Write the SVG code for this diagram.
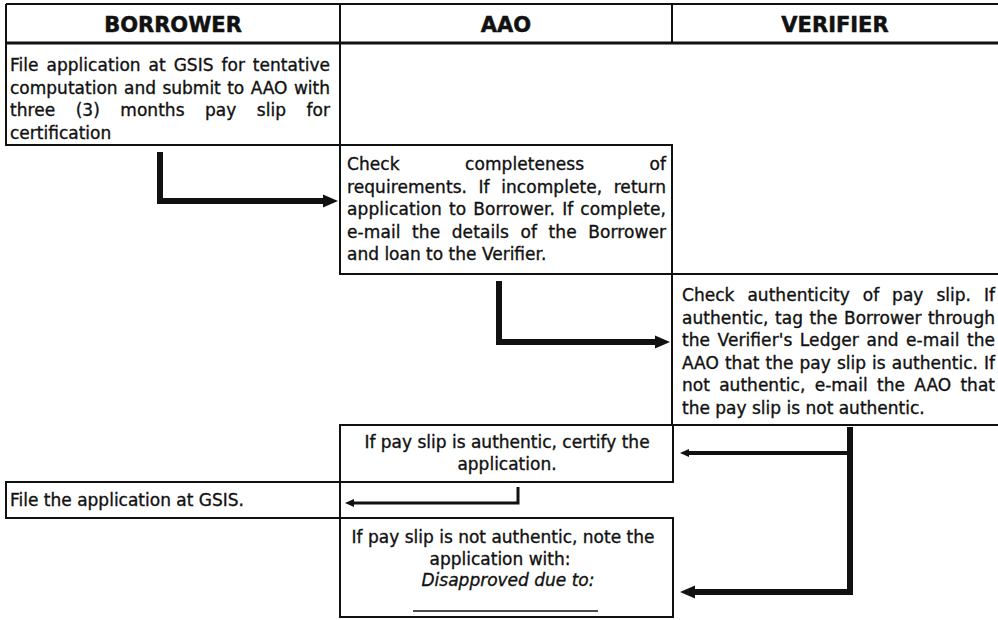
<svg xmlns="http://www.w3.org/2000/svg" width="998" height="620" viewBox="0 0 998 620">
  <style>
    .frame { fill: none; stroke: #111; stroke-width: 2; }
    .hdr { font-family: "DejaVu Sans", "Liberation Sans", sans-serif; font-weight: bold; font-size: 21px; fill: #111; stroke: #111; stroke-width: 0.5; text-anchor: middle; }
    .txt { font-family: "DejaVu Sans", "Liberation Sans", sans-serif; font-size: 17px; fill: #111; stroke: #111; stroke-width: 0.35; }
    .ctr { text-anchor: middle; }
    .it { font-style: italic; }
    .flow { fill: none; stroke: #111; stroke-linejoin: miter; stroke-linecap: butt; }
  </style>
  <defs>
    <marker id="head-lg" markerUnits="userSpaceOnUse" markerWidth="16" markerHeight="14" viewBox="0 -7 16 14" refX="0" refY="0" orient="auto">
      <path d="M0,-6.5 L15,0 L0,6.5 z" fill="#111"/>
    </marker>
    <marker id="head-sm" markerUnits="userSpaceOnUse" markerWidth="10" markerHeight="10" viewBox="0 -5 10 10" refX="0" refY="0" orient="auto">
      <path d="M0,-4 L9,0 L0,4 z" fill="#111"/>
    </marker>
  </defs>
  <rect width="998" height="620" fill="#fff"/>

  <!-- swimlane header -->
  <g id="lanes">
    <path class="frame" d="M6,4 H998 M6,4 V43 M340,4 V43 M672,4 V43"/>
    <path d="M6,43 H998" stroke="#111" stroke-width="3"/>
    <text class="hdr" x="173" y="31.5">BORROWER</text>
    <text class="hdr" x="506" y="31.5">AAO</text>
    <text class="hdr" x="835" y="31.5">VERIFIER</text>
  </g>

  <!-- Borrower: file and submit -->
  <g id="borrower-file">
    <rect class="frame" x="6" y="43" width="334" height="102"/>
    <text class="txt" x="10" y="71" word-spacing="2.5" textLength="320" lengthAdjust="spacing">File application at GSIS for tentative</text>
    <text class="txt" x="10" y="93.5" word-spacing="1" textLength="320" lengthAdjust="spacing">computation and submit to AAO with</text>
    <text class="txt" x="10" y="116" word-spacing="15" textLength="320" lengthAdjust="spacing">three (3) months pay slip for</text>
    <text class="txt" x="10" y="138.5">certification</text>
  </g>

  <!-- AAO: completeness check -->
  <g id="aao-check">
    <rect class="frame" x="340" y="145" width="332" height="129"/>
    <text class="txt" x="347" y="170" word-spacing="60" textLength="319" lengthAdjust="spacing">Check completeness of</text>
    <text class="txt" x="347" y="192.5" word-spacing="6" textLength="319" lengthAdjust="spacing">requirements. If incomplete, return</text>
    <text class="txt" x="347" y="215" word-spacing="1.5" textLength="319" lengthAdjust="spacing">application to Borrower. If complete,</text>
    <text class="txt" x="347" y="237.5" word-spacing="6" textLength="319" lengthAdjust="spacing">e-mail the details of the Borrower</text>
    <text class="txt" x="347" y="260">and loan to the Verifier.</text>
  </g>

  <!-- Verifier: authenticity check -->
  <g id="verifier-check">
    <path class="frame" d="M998,274 H672 V425 H998"/>
    <text class="txt" x="682" y="301" word-spacing="7.5" textLength="313" lengthAdjust="spacing">Check authenticity of pay slip. If</text>
    <text class="txt" x="682" y="323.5" word-spacing="1" textLength="313" lengthAdjust="spacing">authentic, tag the Borrower through</text>
    <text class="txt" x="682" y="346" word-spacing="2" textLength="313" lengthAdjust="spacing">the Verifier's Ledger and e-mail the</text>
    <text class="txt" x="682" y="368.5" word-spacing="0.6" textLength="313" lengthAdjust="spacing">AAO that the pay slip is authentic. If</text>
    <text class="txt" x="682" y="391" word-spacing="3.8" textLength="313" lengthAdjust="spacing">not authentic, e-mail the AAO that</text>
    <text class="txt" x="682" y="413.5">the pay slip is not authentic.</text>
  </g>

  <!-- AAO: certify -->
  <g id="aao-certify">
    <rect class="frame" x="340" y="425" width="333" height="57"/>
    <text class="txt ctr" x="507" y="447.5">If pay slip is authentic, certify the</text>
    <text class="txt ctr" x="507" y="470">application.</text>
  </g>

  <!-- Borrower: file at GSIS -->
  <g id="borrower-gsis">
    <rect class="frame" x="6" y="482" width="334" height="36"/>
    <text class="txt" x="10" y="506">File the application at GSIS.</text>
  </g>

  <!-- AAO: disapproval note -->
  <g id="aao-disapprove">
    <rect class="frame" x="340" y="518" width="333" height="99"/>
    <text class="txt ctr" x="503" y="543">If pay slip is not authentic, note the</text>
    <text class="txt ctr" x="500" y="565">application with:</text>
    <text class="txt ctr it" x="508" y="586">Disapproved due to:</text>
    <line x1="413" y1="611" x2="598" y2="611" stroke="#111" stroke-width="1.5"/>
  </g>

  <!-- flow connectors -->
  <g id="connectors">
    <path class="flow" stroke-width="6" d="M160,152 V201 H323" marker-end="url(#head-lg)"/>
    <path class="flow" stroke-width="6" d="M499,281 V342 H655" marker-end="url(#head-lg)"/>
    <path class="flow" stroke-width="6" d="M850,427 V592 H695" marker-end="url(#head-lg)"/>
    <path class="flow" stroke-width="4" d="M850,453 H689" marker-end="url(#head-sm)"/>
    <path class="flow" stroke-width="3" d="M518,487 V503 H354" marker-end="url(#head-sm)"/>
  </g>
</svg>
